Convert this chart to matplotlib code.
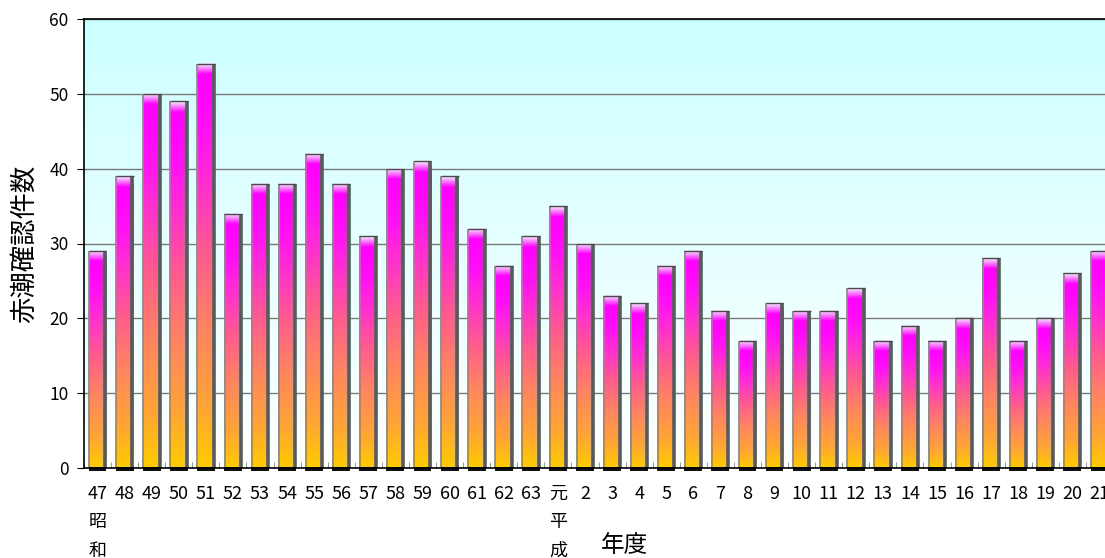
import numpy as np
import matplotlib
matplotlib.use("Agg")
import matplotlib.pyplot as plt
from matplotlib.patches import Rectangle
from matplotlib.ticker import MultipleLocator, FixedLocator

plt.rcParams['font.family'] = ['Noto Sans CJK JP', 'DejaVu Sans']

# 年度ラベル (昭和47年度〜平成21年度)
years = ['47\n昭\n和', '48', '49', '50', '51', '52', '53', '54', '55', '56',
         '57', '58', '59', '60', '61', '62', '63', '元\n平\n成',
         '2', '3', '4', '5', '6', '7', '8', '9', '10', '11', '12', '13',
         '14', '15', '16', '17', '18', '19', '20', '21']
counts = [29, 39, 50, 49, 54, 34, 38, 38, 42, 38,
          31, 40, 41, 39, 32, 27, 31, 35,
          30, 23, 22, 27, 29, 21, 17, 22, 21, 21, 24, 17,
          19, 17, 20, 28, 17, 20, 26, 29]

# bar colour stops, from bottom (0) to just under the top highlight (1)
stops = [0.0, 0.15, 0.35, 0.55, 0.72, 0.86, 1.0]
stop_cols = ['#ffcc00', '#ffa535', '#ff8560', '#ff5a90', '#ff30d0', '#ff10f6', '#ff00ff']


def hex2rgb(c):
    c = c.lstrip('#')
    return np.array([int(c[i:i + 2], 16) / 255 for i in (0, 2, 4)])


stop_rgb = np.array([hex2rgb(c) for c in stop_cols])


def bar_gradient(h, n=300):
    y = np.linspace(0, h, n)
    hl = 1.4  # height of the light cap in data units
    body = np.clip(y / max(h - hl, 0.1), 0, 1)
    rgb = np.stack([np.interp(body, stops, stop_rgb[:, k]) for k in range(3)], axis=1)
    cap = np.clip((y - (h - hl)) / hl, 0, 1)[:, None]
    top = hex2rgb('#f4ecff')
    rgb = rgb * (1 - cap) + top * cap
    return rgb[:, None, :]


fig = plt.figure(figsize=(11.05, 5.58), dpi=100)
n = len(years)
ax = fig.add_axes([84 / 1105, 90 / 558, n * 27.08 / 1105, 449 / 558])

x = np.arange(n)
ax.set_xlim(-0.5, n - 0.5)
ax.set_ylim(0, 60)

# background fading from light cyan to white
bg = np.linspace(0, 1, 200)[:, None]
bg_rgb = hex2rgb('#ffffff') * (1 - bg[..., None]) + hex2rgb('#ccffff') * bg[..., None]
ax.imshow(bg_rgb, extent=[0, 1, 0, 1], transform=ax.transAxes,
          aspect='auto', origin='lower', zorder=0)

ax.yaxis.set_major_locator(MultipleLocator(10))
ax.grid(axis='y', color='#7a7a7a', linewidth=1.0, zorder=1)
ax.set_axisbelow(True)

w = 0.66
for xi, h in zip(x, counts):
    ax.imshow(bar_gradient(h), extent=[xi - w / 2, xi + w / 2, 0, h],
              aspect='auto', origin='lower', zorder=3, interpolation='bilinear')
    # side shading and top rim
    ax.plot([xi - w / 2 + 0.02, xi - w / 2 + 0.02], [0, h], color='#8c8c8c',
            lw=1.3, zorder=4, solid_capstyle='butt')
    ax.plot([xi + w / 2 - 0.04, xi + w / 2 - 0.04], [0, h], color='#5a5a5a',
            lw=2.6, zorder=4, solid_capstyle='butt')
    ax.plot([xi - w / 2, xi + w / 2], [h, h], color='#4a4a4a', lw=1.0,
            zorder=4, solid_capstyle='butt')
    # dark base under each bar
    ax.add_patch(Rectangle((xi - w / 2, -0.45), w, 0.55, color='#111111',
                           zorder=5, clip_on=False, lw=0))

ax.set_xticks(x)
ax.set_xticklabels(years, fontsize=13, linespacing=1.75, va='top')
ax.xaxis.set_minor_locator(FixedLocator(np.arange(-0.5, n, 1.0)))
ax.tick_params(axis='x', which='major', length=0, pad=12)
ax.tick_params(axis='x', which='minor', length=4, direction='in', color='#888888')
ax.tick_params(axis='y', length=5, labelsize=12.5, pad=6)

for s in ('left', 'bottom', 'top'):
    ax.spines[s].set_color('black')
    ax.spines[s].set_linewidth(1.2)
ax.spines['bottom'].set_zorder(6)

ax.set_ylabel('赤潮確認件数', fontsize=19, labelpad=8)
fig.text(625 / 1105, 1 - 545 / 558, '年度', fontsize=17, ha='center', va='center')

fig.savefig('out.png', dpi=100)
